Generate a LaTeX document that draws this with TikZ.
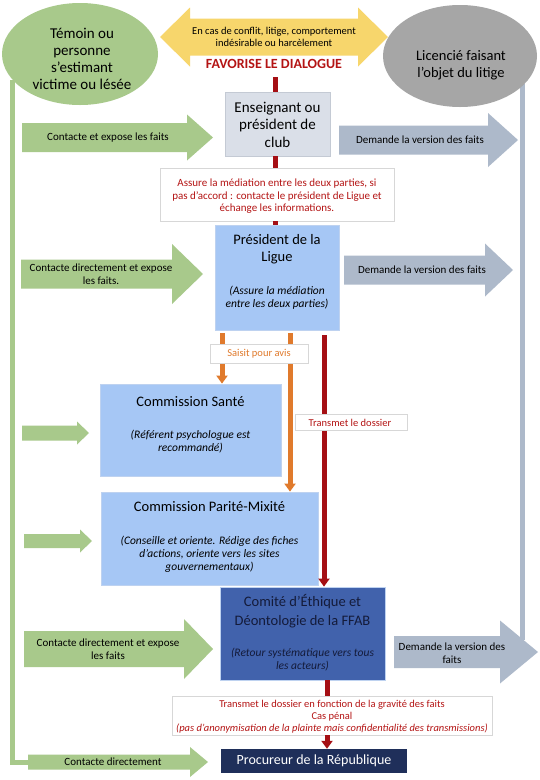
\documentclass[tikz,border=0pt]{standalone}
\usepackage{fontspec}
\setmainfont{Carlito}
\usetikzlibrary{arrows.meta,shapes.geometric}
\definecolor{gr}{RGB}{168,201,139}
\definecolor{gy}{RGB}{166,166,166}
\definecolor{bg}{RGB}{173,185,202}
\definecolor{yl}{RGB}{247,214,108}
\definecolor{ensf}{RGB}{218,223,232}
\definecolor{ensd}{RGB}{196,202,212}
\definecolor{lb}{RGB}{166,199,245}
\definecolor{lbd}{RGB}{190,210,240}
\definecolor{cm}{RGB}{65,98,172}
\definecolor{pr}{RGB}{31,47,90}
\definecolor{rl}{RGB}{165,15,20}
\definecolor{rt}{RGB}{180,20,20}
\definecolor{og}{RGB}{224,122,44}
\definecolor{nv}{RGB}{20,27,58}
\definecolor{bx}{RGB}{215,215,215}
\newcommand{\rblock}[7]{%
  \fill[#1] (#2,#5-#6) -- (#3,#5-#6) -- (#3,#5-#7) -- (#4,#5) -- (#3,#5+#7) -- (#3,#5+#6) -- (#2,#5+#6) -- cycle;}
\newcommand{\fTitle}{\fontsize{14.5}{17}\selectfont}
\newcommand{\fSmall}{\fontsize{11}{12.5}\selectfont}
\newcommand{\fIt}{\fontsize{11.5}{13}\selectfont\itshape}
\begin{document}
\begin{tikzpicture}[x=1pt,y=-1pt,
  txt/.style={align=center,inner sep=0pt},
  gline/.style={draw=gr,line width=5pt},
  bline/.style={draw=bg,line width=5pt},
  redline/.style={draw=rl,line width=5pt},
  redarrow/.style={draw=rl,line width=5pt,-{Triangle[width=11pt,length=8pt]}},
  orgarrow/.style={draw=og,line width=5pt,-{Triangle[width=11pt,length=8pt]}},
  whitebox/.style={draw=bx,line width=0.8pt,fill=white,inner sep=0pt},
  bluebox/.style={draw=lbd,line width=0.8pt,fill=lb,inner sep=0pt},
]
\useasboundingbox (0,0) rectangle (540,780);
\fill[white] (0,0) rectangle (540,780);

% side connectors
\coordinate (gl0) at (12,80);
\coordinate (gl1) at (12,762);
\coordinate (gl2) at (34,762);
\draw[gline] (gl0) -- (gl1) -- (gl2);
\coordinate (bl0) at (522,84);
\coordinate (bl1) at (522,640);
\draw[bline] (bl0) -- (bl1);

% ellipses
\node[ellipse,fill=gr,minimum width=156pt,minimum height=102pt,inner sep=0pt] (temoin) at (80,54) {};
\node[txt,font=\fontsize{15}{17}\selectfont] (temoinT) at (82,58.5) {Témoin ou\\personne\\s’estimant\\victime ou lésée};
\node[ellipse,fill=gy,minimum width=154pt,minimum height=102pt,inner sep=0pt] (lic) at (460,56) {};
\node[txt,font=\fontsize{14.5}{17}\selectfont] (licT) at (461,65.5) {Licencié faisant\\l’objet du litige};

% yellow double arrow
\fill[yl] (160,37) -- (190,7.5) -- (190,18.5) -- (358,18.5) -- (358,7.5) -- (388,37) -- (358,66.5) -- (358,55.5) -- (190,55.5) -- (190,66.5) -- cycle;
\node[txt,font=\fontsize{10.5}{12.5}\selectfont] (conflit) at (274,37) {En cas de conflit, litige, comportement\\indésirable ou harcèlement};
\node[txt,font=\fontsize{14}{16}\selectfont\bfseries,text=rt] (fav) at (274,64) {FAVORISE LE DIALOGUE};

% boxes
\node[draw=ensd,line width=0.8pt,fill=ensf,minimum width=105pt,minimum height=64pt,inner sep=0pt] (ens) at (277.5,124) {};
\node[txt,font=\fontsize{15}{17.5}\selectfont] (ensT) at (277.5,124.5) {Enseignant ou\\président de\\club};

\node[whitebox,minimum width=234pt,minimum height=53pt] (assure) at (277,194.5) {};
\node[txt,font=\fSmall,text=rt] (assureT) at (277,196.5) {Assure la médiation entre les deux parties, si\\pas d’accord : contacte le président de Ligue et\\échange les informations.};

\node[bluebox,minimum width=124pt,minimum height=105pt] (ligue) at (277,277.5) {};
\node[txt,font=\fTitle] (ligueT) at (277,249.5) {Président de la\\Ligue};
\node[txt,font=\fIt] (ligueI) at (277,297.5) {(Assure la médiation\\entre les deux parties)};

% red connectors upper
\coordinate (r0) at (275,77);
\draw[redline] (r0) -- (r0 |- ens.north);
\draw[redline] (ens.south -| r0) -- (assure.north -| r0);
\draw[redline] (assure.south -| r0) -- (ligue.north -| r0);

% commissions
\node[bluebox,minimum width=181pt,minimum height=92pt] (sante) at (190.5,430) {};
\node[txt,font=\fTitle] (santeT) at (190.5,402) {Commission Santé};
\node[txt,font=\fIt] (santeI) at (190.5,441.5) {(Référent psychologue est\\recommandé)};

\node[bluebox,minimum width=217pt,minimum height=93pt] (parite) at (209.5,538.5) {};
\node[txt,font=\fTitle] (pariteT) at (209.5,507) {Commission Parité-Mixité};
\node[txt,font=\fIt] (pariteI) at (209.5,554.5) {(Conseille et oriente. Rédige des fiches\\d’actions, oriente vers les sites\\gouvernementaux)};

\node[draw=lbd,line width=0.8pt,fill=cm,minimum width=165pt,minimum height=93pt,inner sep=0pt] (comite) at (302.5,633.5) {};
\node[txt,font=\fontsize{14.5}{19}\selectfont,text=nv] (comiteT) at (302.5,611.5) {Comité d’Éthique et\\Déontologie de la FFAB};
\node[txt,font=\fIt,text=nv] (comiteI) at (302.5,659.5) {(Retour systématique vers tous\\les acteurs)};

\node[fill=pr,minimum width=186pt,minimum height=24pt,inner sep=0pt] (proc) at (314,761) {};
\node[txt,font=\fontsize{14}{16}\selectfont,text=white] (procT) at (314,760.5) {Procureur de la République};

% orange and red connectors from Ligue
\coordinate (o1) at (222,333);
\coordinate (o2) at (290,333);
\coordinate (r1) at (324,335);
\draw[orgarrow] (o1) -- (o1 |- sante.north);
\draw[orgarrow] (o2) -- (o2 |- parite.north);
\draw[redarrow] (r1) -- (r1 |- comite.north);
\node[whitebox,minimum width=98pt,minimum height=19pt] (saisit) at (259,353.5) {};
\node[txt,font=\fontsize{10.5}{12}\selectfont,text=og] (saisitT) at (259,354) {Saisit pour avis};
\node[whitebox,minimum width=112pt,minimum height=16pt] (transm) at (351,422) {};
\node[txt,font=\fontsize{10.5}{12}\selectfont,text=rt] (transmT) at (350,422.5) {Transmet le dossier};

% bottom red
\coordinate (r2) at (327,0);
\node[whitebox,minimum width=320pt,minimum height=39pt] (penal) at (332,715.5) {};
\draw[redline] (comite.south -| r2) -- (penal.north -| r2);
\draw[redarrow] (penal.south -| r2) -- (proc.north -| r2);
\node[txt,font=\fontsize{10.5}{12}\selectfont,text=rt] (penalT) at (332,717) {Transmet le dossier en fonction de la gravité des faits\\Cas pénal\\\itshape(pas d’anonymisation de la plainte mais confidentialité des transmissions)};

% green block arrows
\rblock{gr}{22}{187}{213}{137.5}{14.5}{23}
\node[txt,font=\fSmall] (g1) at (108,137.5) {Contacte et expose les faits};
\rblock{gr}{21}{172}{203}{274}{14.5}{30}
\node[txt,font=\fSmall] (g2) at (101,274) {Contacte directement et expose\\les faits.};
\rblock{gr}{22}{77}{89}{433}{7.5}{11.5}
\rblock{gr}{24}{80}{92}{541}{7}{11.5}
\rblock{gr}{24}{184}{213}{649}{18}{30}
\node[txt,font=\fSmall] (g3) at (108,649) {Contacte directement et expose\\les faits};
\rblock{gr}{28}{190}{208}{762}{7.5}{15}
\node[txt,font=\fSmall] (g4) at (113,762) {Contacte directement};

% grey-blue block arrows
\rblock{bg}{339}{488}{518}{140}{14.5}{27}
\node[txt,font=\fSmall] (b1) at (420,140) {Demande la version des faits};
\rblock{bg}{344}{485}{513}{270}{14.5}{26.5}
\node[txt,font=\fSmall] (b2) at (422,270) {Demande la version des faits};
\rblock{bg}{394}{500}{538}{652}{16}{31.5}
\node[txt,font=\fSmall] (b3) at (452,653) {Demande la version des\\faits};
\end{tikzpicture}
\end{document}
